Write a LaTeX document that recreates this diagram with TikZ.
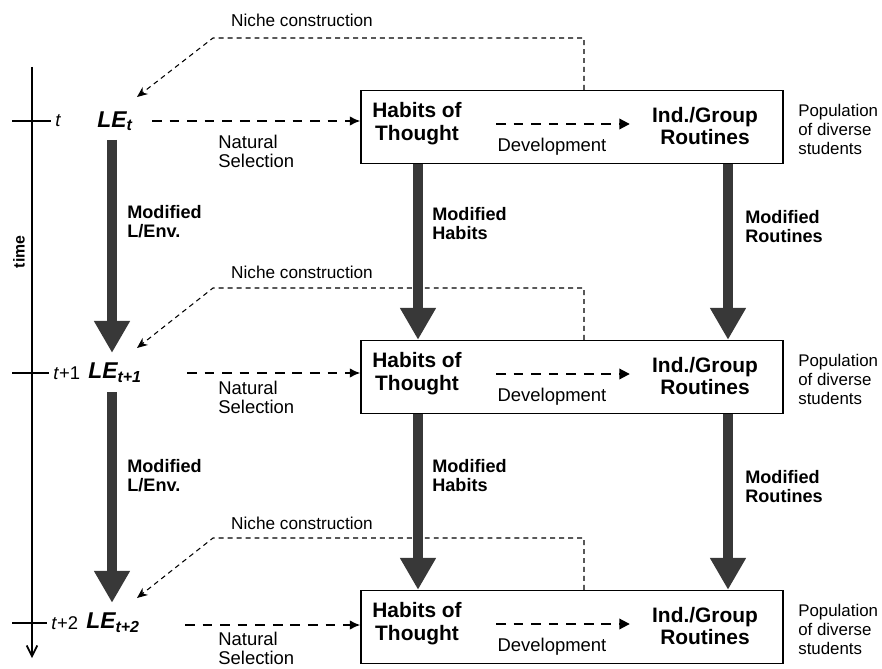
\documentclass[tikz,border=0pt]{standalone}
\usepackage{fontspec}
\setmainfont{Liberation Sans}
\usetikzlibrary{arrows.meta}

\begin{document}
\begin{tikzpicture}[x=0.02cm, y=-0.02cm,
		stage/.style={draw, line width=0.8pt, minimum width=8.44cm, minimum height=1.46cm},
		boxtext/.style={font=\fontsize{11.9}{13}\selectfont\bfseries, align=center, inner sep=0pt},
		lbl/.style={font=\fontsize{10.5}{10.8}\selectfont, align=left, inner sep=0pt},
		modlbl/.style={font=\fontsize{10.3}{10.8}\selectfont\bfseries, align=left, anchor=west, inner sep=0pt},
		poplbl/.style={font=\fontsize{9.6}{10.8}\selectfont, align=left, anchor=west, inner sep=0pt},
		lelbl/.style={font=\fontsize{13}{14}\selectfont\bfseries\itshape, anchor=west, inner sep=0pt},
		ticklbl/.style={font=\fontsize{10.5}{11}\selectfont, anchor=west, inner sep=0pt},
		nichelbl/.style={font=\fontsize{9.8}{11}\selectfont, inner sep=0pt},
		tickline/.style={line width=0.6pt, shorten >=2.5pt},
		fat/.style={line width=0.2cm, black!78, -{Triangle[width=0.68cm, length=0.64cm]}},
		natsel/.style={line width=1.1pt, dash pattern=on 5.5pt off 4.5pt, -{Latex[length=6pt, width=5.5pt]}},
		devel/.style={line width=1.1pt, dash pattern=on 5.5pt off 4.5pt, -{Triangle[length=6pt, width=6pt]},
			shorten <=0.68cm, shorten >=0.44cm},
		niche/.style={line width=0.6pt, dash pattern=on 2.8pt off 2.3pt, -{Stealth[length=6pt, width=5pt]}},
	]
	\useasboundingbox (0,0) rectangle (882,669);
	
	% columns of the thick arrows and of the niche lines
	\coordinate (lc) at (112,0);
	\coordinate (hc) at (418,0);
	\coordinate (rc) at (728,0);
	\coordinate (nc) at (584,0);
	
	% time axis
	\coordinate (ttop) at (32,67);
	\coordinate (tbot) at (32,658);
	\draw[line width=1pt, -{Straight Barb[length=6pt, width=6pt]}] (ttop) -- (tbot);
	\node[font=\fontsize{9}{10}\selectfont\bfseries, rotate=90] (time) at (19,252) {time};
	
	% step t
	\node[ticklbl] (t1) at (55,121) {\textit{t}};
	\coordinate (tk1) at (12,121);
	\draw[tickline] (tk1) -- (t1.west);
	\node[lelbl] (le1) at (97,121) {LE\textsubscript{t}};
	\node[stage] (box1) at (572,127) {};
	\node[boxtext] (hab1) at (417,124) {Habits of\\Thought};
	\node[boxtext] (rou1) at (705,126) {Ind./Group\\Routines};
	\node[poplbl] (pop1) at (798,129) {Population\\of diverse\\students};
	\node[lbl] (dev1) at (552,147) {Development};
	\draw[devel] (hab1.east) -- (rou1.west |- hab1.east);
	\coordinate (ns1) at (152,121);
	\draw[natsel] (ns1) -- (ns1 -| box1.west);
	\node[lbl, anchor=west] (nsl1) at (218,151) {Natural\\Selection};
	\node[nichelbl] (nl1) at (302,20) {Niche construction};
	\coordinate (nk1) at (213,38);
	\coordinate (nt1) at (137,97);
	\draw[niche] (box1.north -| nc) |- (nk1) -- (nt1);
	
	% step t+1
	\node[ticklbl] (t2) at (53,373) {\textit{t}+1};
	\coordinate (tk2) at (12,373);
	\draw[tickline] (tk2) -- (t2.west);
	\node[lelbl] (le2) at (88,373) {LE\textsubscript{t+1}};
	\node[stage] (box2) at (572,377) {};
	\node[boxtext] (hab2) at (417,374) {Habits of\\Thought};
	\node[boxtext] (rou2) at (705,376) {Ind./Group\\Routines};
	\node[poplbl] (pop2) at (798,379) {Population\\of diverse\\students};
	\node[lbl] (dev2) at (552,397) {Development};
	\draw[devel] (hab2.east) -- (rou2.west |- hab2.east);
	\coordinate (ns2) at (187,373);
	\draw[natsel] (ns2) -- (ns2 -| box2.west);
	\node[lbl, anchor=west] (nsl2) at (218,397) {Natural\\Selection};
	\node[nichelbl] (nl2) at (302,272) {Niche construction};
	\coordinate (nk2) at (213,288);
	\coordinate (nt2) at (137,348);
	\draw[niche] (box2.north -| nc) |- (nk2) -- (nt2);
	
	% step t+2
	\node[ticklbl] (t3) at (51,623) {\textit{t}+2};
	\coordinate (tk3) at (12,623);
	\draw[tickline] (tk3) -- (t3.west);
	\node[lelbl] (le3) at (86,623) {LE\textsubscript{t+2}};
	\node[stage] (box3) at (572,627) {};
	\node[boxtext] (hab3) at (417,624) {Habits of\\Thought};
	\node[boxtext] (rou3) at (705,626) {Ind./Group\\Routines};
	\node[poplbl] (pop3) at (798,629) {Population\\of diverse\\students};
	\node[lbl] (dev3) at (552,647) {Development};
	\draw[devel] (hab3.east) -- (rou3.west |- hab3.east);
	\coordinate (ns3) at (185,625);
	\draw[natsel] (ns3) -- (ns3 -| box3.west);
	\node[lbl, anchor=west] (nsl3) at (218,648) {Natural\\Selection};
	\node[nichelbl] (nl3) at (302,523) {Niche construction};
	\coordinate (nk3) at (213,538);
	\coordinate (nt3) at (137,598);
	\draw[niche] (box3.north -| nc) |- (nk3) -- (nt3);
	
	% modification from one step to the next
	\draw[fat, shorten <=0.18cm, shorten >=0.2cm] (le1.south -| lc) -- (le2.north -| lc);
	\draw[fat] (box1.south -| hc) -- (box2.north -| hc);
	\draw[fat] (box1.south -| rc) -- (box2.north -| rc);
	\node[modlbl] (ml1) at (127,222) {Modified\\L/Env.};
	\node[modlbl] (mh1) at (432,224) {Modified\\Habits};
	\node[modlbl] (mr1) at (745,227) {Modified\\Routines};
	
	\draw[fat, shorten <=0.18cm, shorten >=0.2cm] (le2.south -| lc) -- (le3.north -| lc);
	\draw[fat] (box2.south -| hc) -- (box3.north -| hc);
	\draw[fat] (box2.south -| rc) -- (box3.north -| rc);
	\node[modlbl] (ml2) at (127,476) {Modified\\L/Env.};
	\node[modlbl] (mh2) at (432,476) {Modified\\Habits};
	\node[modlbl] (mr2) at (745,487) {Modified\\Routines};
\end{tikzpicture}
\end{document}
